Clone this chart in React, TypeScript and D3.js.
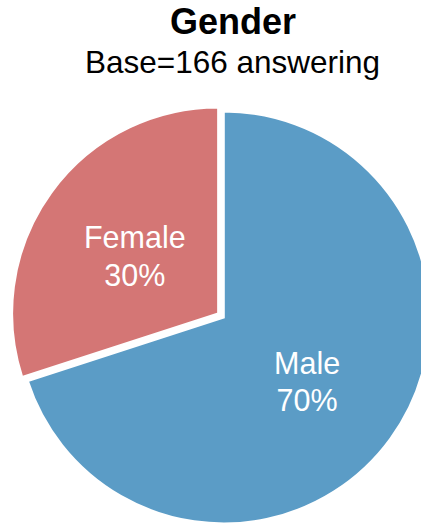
import React from "react";
import * as d3 from "d3";

const categories = ["Male", "Female"];
const values = [70, 30];
const percentLabels = ["70%", "30%"];
const colors = ["#5b9cc6", "#d47675"];
const explode = [0, 7];
const title = "Gender";
const subtitle = "Base=166 answering";

const W = 421;
const H = 525;
const cx = 223.8;
const cy = 317.5;
const R = 206;

export default function App() {
  const pie = d3
    .pie<number>()
    .sort(null)
    .startAngle(0)
    .endAngle(2 * Math.PI)
    .value((d) => d);
  const arcs = pie(values);
  const arc = d3.arc<d3.PieArcDatum<number>>().innerRadius(0).outerRadius(R);
  const font = "'Liberation Sans', Arial, Helvetica, sans-serif";

  return (
    <svg
      width={W}
      height={H}
      style={{ position: "absolute", left: 0, top: 0, display: "block" }}
    >
      <text
        x={233}
        y={34}
        textAnchor="middle"
        fontFamily={font}
        fontWeight="bold"
        fontSize={36}
        fill="#000"
      >
        {title}
      </text>
      <text
        x={232.5}
        y={73}
        textAnchor="middle"
        fontFamily={font}
        fontSize={31.5}
        fill="#000"
      >
        {subtitle}
      </text>
      <g transform={`translate(${cx},${cy})`}>
        {arcs.map((a, i) => {
          const mid = (a.startAngle + a.endAngle) / 2;
          const dx = Math.sin(mid) * explode[i];
          const dy = -Math.cos(mid) * explode[i];
          const [lx, ly] = arc.centroid(a);
          return (
            <g key={categories[i]} transform={`translate(${dx},${dy})`}>
              <path d={arc(a) || ""} fill={colors[i]} stroke="#fff" strokeWidth={2} />
              <text
                x={lx}
                y={ly - 4.5}
                textAnchor="middle"
                fontFamily={font}
                fontSize={30.5}
                fill="#fff"
              >
                {categories[i]}
              </text>
              <text
                x={lx}
                y={ly + 33}
                textAnchor="middle"
                fontFamily={font}
                fontSize={30.5}
                fill="#fff"
              >
                {percentLabels[i]}
              </text>
            </g>
          );
        })}
      </g>
    </svg>
  );
}
